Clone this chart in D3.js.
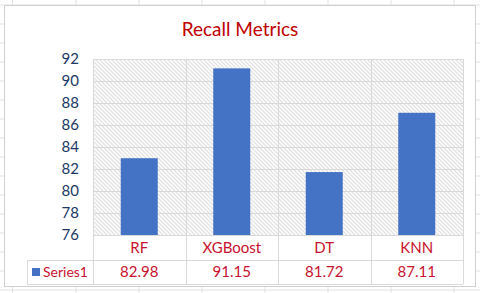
<!DOCTYPE html>
<html><head><meta charset="utf-8">
<script src="https://cdn.jsdelivr.net/npm/d3@7"></script>
<style>html,body{margin:0;padding:0;background:#fff;}svg{display:block;}</style>
</head><body>
<script>
const categories = ["RF", "XGBoost", "DT", "KNN"];
const values = [82.98, 91.15, 81.72, 87.11];
const yTicks = [76, 78, 80, 82, 84, 86, 88, 90, 92];
const seriesName = "Series1";
const title = "Recall Metrics";

const W = 480, H = 293;
const svg = d3.select("body").append("svg").attr("width", W).attr("height", H);
const font = "Lato, 'Open Sans', sans-serif";

// spreadsheet background grid
const sheetCols = [12.5, 76, 139, 202, 265, 328, 391, 454];
const sheetRows = d3.range(5, 293, 19);
svg.append("g").selectAll("line.c").data(sheetCols).join("line")
  .attr("x1", d => d).attr("x2", d => d).attr("y1", 0).attr("y2", H)
  .attr("stroke", "#e1e1e1");
svg.append("g").selectAll("line.r").data(sheetRows).join("line")
  .attr("x1", 0).attr("x2", W).attr("y1", d => d).attr("y2", d => d)
  .attr("stroke", "#e1e1e1");

// chart area
svg.append("rect").attr("x", 4.5).attr("y", 5.5).attr("width", 471).attr("height", 281)
  .attr("fill", "#fff").attr("stroke", "#d0d0d0");

const defs = svg.append("defs");
const pat = defs.append("pattern").attr("id", "hatch").attr("patternUnits", "userSpaceOnUse")
  .attr("width", 4).attr("height", 4);
pat.append("rect").attr("width", 4).attr("height", 4).attr("fill", "#fff");
pat.append("path").attr("d", "M-1,-1L5,5M-1,3L1,5M3,-1L5,1")
  .attr("stroke", "#e2e2e2").attr("stroke-width", 1.3);

const L = 93, R = 463, T = 59, B = 235;
const rowMid = 260, rowBot = 284, legL = 27;

const x = d3.scaleBand().domain(categories).range([L, R]).paddingInner(0.6).paddingOuter(0.3);
const xCol = d3.scaleBand().domain(categories).range([L, R]);
const y = d3.scaleLinear().domain([76, 92]).range([B, T]);

svg.append("rect").attr("x", L).attr("y", T).attr("width", R - L).attr("height", B - T)
  .attr("fill", "url(#hatch)");

const grid = "#d9d9d9";
// horizontal gridlines
svg.append("g").selectAll("line").data(yTicks).join("line")
  .attr("x1", L).attr("x2", R).attr("y1", d => Math.round(y(d)) + 0.5).attr("y2", d => Math.round(y(d)) + 0.5)
  .attr("stroke", grid);
// vertical column lines
const colEdges = categories.map(c => xCol(c)).concat([R]);
svg.append("g").selectAll("line").data(colEdges).join("line")
  .attr("x1", d => Math.round(d) + 0.5).attr("x2", d => Math.round(d) + 0.5)
  .attr("y1", T).attr("y2", rowBot).attr("stroke", grid);
// table rows
[rowMid, rowBot].forEach(yy => {
  svg.append("line").attr("x1", legL).attr("x2", R).attr("y1", yy + 0.5).attr("y2", yy + 0.5).attr("stroke", grid);
});
svg.append("line").attr("x1", legL + 0.5).attr("x2", legL + 0.5).attr("y1", rowMid).attr("y2", rowBot).attr("stroke", grid);

// bars
svg.append("g").selectAll("rect").data(values).join("rect")
  .attr("x", (d, i) => x(categories[i])).attr("width", x.bandwidth())
  .attr("y", d => y(d)).attr("height", d => B - y(d))
  .attr("fill", "#4472C4");

// y axis labels
const yAxis = d3.axisLeft(y).tickValues(yTicks).tickSize(0).tickPadding(0);
const ga = svg.append("g").attr("transform", `translate(${79},0)`).call(yAxis);
ga.select(".domain").remove();
ga.selectAll("text").attr("font-family", font).attr("font-size", 15).attr("fill", "#203864");

// category labels
const red = "#C8102E";
svg.append("g").selectAll("text").data(categories).join("text")
  .attr("x", d => xCol(d) + xCol.bandwidth() / 2).attr("y", 253)
  .attr("text-anchor", "middle").attr("font-family", font).attr("font-size", 15)
  .attr("fill", red).text(d => d);
// values row
svg.append("g").selectAll("text").data(values).join("text")
  .attr("x", (d, i) => xCol(categories[i]) + xCol.bandwidth() / 2).attr("y", 276.5)
  .attr("text-anchor", "middle").attr("font-family", font).attr("font-size", 15)
  .attr("fill", red).text(d => d.toFixed(2));
// legend
svg.append("rect").attr("x", 32).attr("y", 268).attr("width", 8).attr("height", 8).attr("fill", "#4472C4");
svg.append("text").attr("x", 43).attr("y", 276.5).attr("font-family", font).attr("font-size", 14)
  .attr("fill", red).text(seriesName);

// title
svg.append("text").attr("x", 240).attr("y", 36).attr("text-anchor", "middle")
  .attr("font-family", font).attr("font-size", 19).attr("fill", "#C00000").text(title);
</script>
</body></html>
